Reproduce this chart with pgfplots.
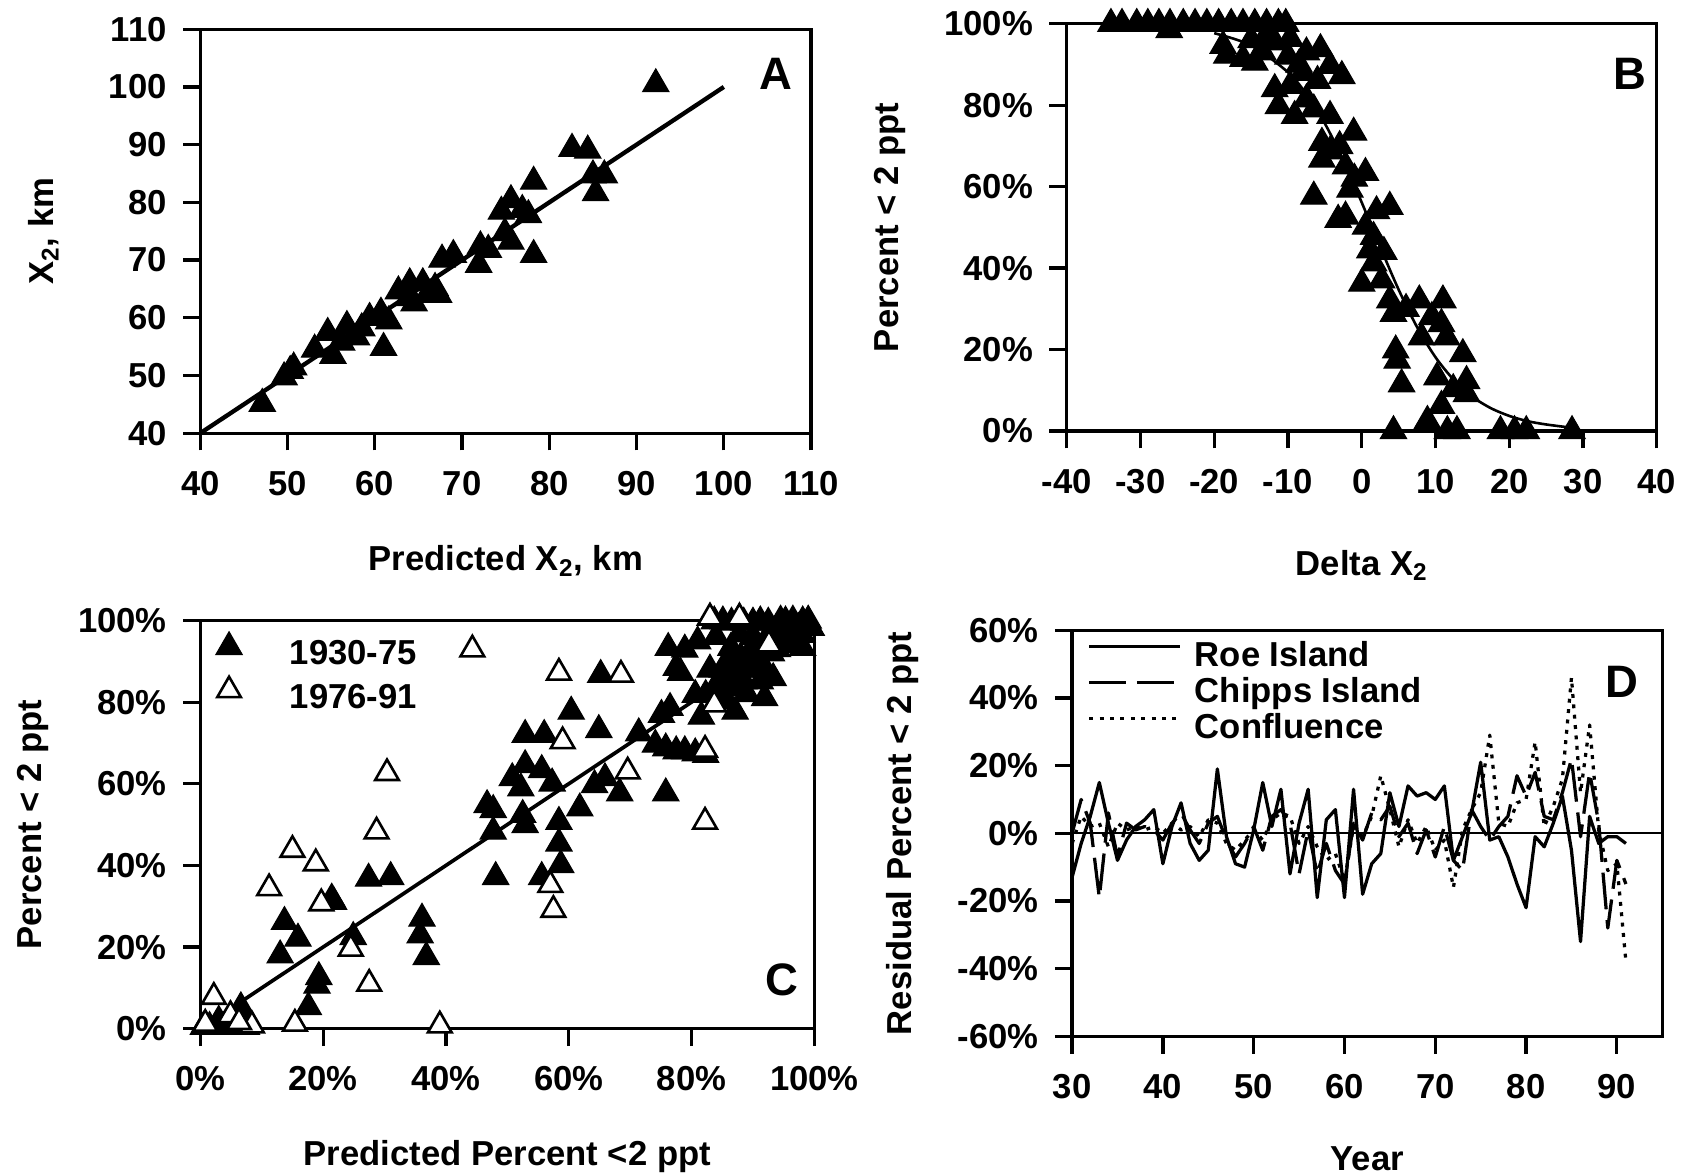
\documentclass[border=0pt]{standalone}
\usepackage{fontspec}
\setmainfont{Liberation Sans}
\usepackage{pgfplots}
\pgfplotsset{compat=1.18}
\newcommand\lab{\fontsize{16}{19}\selectfont\bfseries}
\newcommand\panelfont{\fontsize{21}{24}\selectfont\bfseries}
\pgfplotsset{
  panel/.style={
    scale only axis,
    anchor=south west,
    axis line style={line width=1.5pt},
    every tick/.style={line width=1.5pt, black},
    tick align=outside,
    major tick length=8pt,
    tick pos=left,
    tick label style={font=\lab},
    label style={font=\lab},
    /pgf/number format/assume math mode=true,
    clip=false,
    xticklabel shift=6pt,
    yticklabel shift=4pt,
  },
  fill tri/.style={only marks, mark=triangle*, mark size=7pt, mark options={fill=black, draw=black, line width=0.5pt}},
  open tri/.style={only marks, mark=triangle*, mark size=6.3pt, mark options={fill=white, draw=black, line width=1.2pt}},
}
\begin{document}
\begin{tikzpicture}
\useasboundingbox (0,0) rectangle (784pt,542.5pt);
% ---------------- A
\begin{axis}[panel, at={(92.5pt,342.5pt)}, width=282pt, height=186.5pt,
  xmin=40, xmax=110, ymin=40, ymax=110,
  xtick={40,50,60,70,80,90,100,110}, xticklabels={40,50,60,70,80,90,100,110},
  ytick={40,50,60,70,80,90,100,110}, yticklabels={40,50,60,70,80,90,100,110},
  xlabel={Predicted X\textsubscript{2}, km}, ylabel={X\textsubscript{2}, km},
  xlabel style={at={(axis description cs:0.5,-0.316)}, anchor=center},
  ylabel style={at={(axis description cs:-0.257,0.5)}, anchor=center}]
\addplot[line width=2pt] coordinates {(40,40) (100,100)};
\addplot[fill tri] coordinates {
(47.1,45.1) (49.6,49.7) (50.7,51.4) (50.3,50.8) (53.1,54.5) (54.6,57.4) (55.2,53.4)
(56.8,58.6) (56.2,55.7) (57.9,56.6) (59.4,60.0) (60.7,60.9) (61.0,54.8) (61.6,59.4)
(62.7,64.6) (64.0,66.0) (63.8,63.4) (65.5,66.0) (66.9,65.2) (67.3,64.0) (66.0,64.0)
(67.7,70.1) (69.0,70.9) (71.9,69.2) (72.1,72.4) (73.0,71.8) (74.5,78.4) (75.6,80.4)
(74.9,74.7) (75.6,73.2) (76.9,78.7) (77.6,77.8) (78.2,83.6) (78.2,70.9) (82.6,89.3)
(84.4,89.0) (85.0,84.7) (86.3,84.7) (85.3,81.6) (92.2,100.5) (64.5,62.5) (58.5,58.2)};
\node[font=\panelfont] at (axis cs:106,102.3) {A};
\end{axis}
% ---------------- B
\begin{axis}[panel, at={(492.5pt,343.5pt)}, width=272.5pt, height=188pt,
  xmin=-40, xmax=40, ymin=0, ymax=100,
  xtick={-40,-30,-20,-10,0,10,20,30,40}, xticklabels={-40,-30,-20,-10,0,10,20,30,40},
  ytick={0,20,40,60,80,100}, yticklabels={0\%,20\%,40\%,60\%,80\%,100\%},
  xlabel={Delta X\textsubscript{2}}, ylabel={Percent < 2 ppt},
  xlabel style={at={(axis description cs:0.5,-0.330)}, anchor=center},
  ylabel style={at={(axis description cs:-0.299,0.5)}, anchor=center}]
\addplot[line width=1.2pt, smooth] coordinates {
(-20,97.7) (-15,94.7) (-10,88.1) (-7.5,82.7) (-5,75.5) (-2.5,66.5) (0,56.1) (2.5,45.2)
(5,34.7) (7.5,25.5) (10,18.1) (12.5,12.5) (15,8.4) (17.5,5.6) (20,3.7) (22.5,2.4) (25,1.6) (28,0.9)};
\addplot[fill tri] coordinates {
(-34,100) (-32.5,100) (-30.5,100) (-29,100) (-27.5,100) (-26,100) (-24.2,100) (-22.6,100)
(-21,100) (-19.4,100) (-17.7,100) (-16.1,100) (-14.5,100) (-12.9,100) (-11.3,100) (-10.3,100) (-26.1,98.5)
(-18.8,94.6) (-18.3,92.2) (-16.1,91.4) (-14.5,90.5) (-13.4,93.0) (-11.8,95.5) (-9.7,96.3)
(-7.5,93.0) (-5.6,93.8) (-4.3,89.7) (-2.7,87.2) (-11.8,84.0) (-9.7,84.8) (-11.3,79.8)
(-9.1,77.4) (-7.5,81.5) (-4.3,77.4) (-1.1,73.3) (-5.4,70.8) (-4.3,68.7) (-5.4,66.7)
(-2.2,65.0) (0.5,63.4) (-1.6,59.3) (-6.5,57.6) (-2.2,52.7) (3.8,55.1) (-3.2,51.9)
(0.5,50.2) (1.6,47.7) (1.1,44.4) (1.6,41.2) (0,36.2) (2.7,37.0) (3.8,32.1) (4.3,28.8)
(7.8,32.1) (11.0,32.1) (10.8,26.3) (8.1,23.0) (11.5,23.0) (4.6,19.8) (13.7,18.9)
(4.8,17.3) (10.2,13.2) (14.2,12.3) (5.4,11.5) (12.4,10.3) (14.2,9.1) (10.8,6.2) (8.9,2.5)
(4.3,0) (11.6,0) (12.9,0) (18.8,0) (20.7,0) (22.3,0) (28.5,0) (-8,88) (-6,86)
(-15,96) (-13,97) (-10,92) (-8.5,90) (-6.5,79) (-3,70) (-1,62) (2,54) (3,44) (6,30) (9.5,28)};
\node[font=\panelfont] at (axis cs:36.4,87.8) {B};
\end{axis}
% ---------------- C
\begin{axis}[panel, at={(92.5pt,67.5pt)}, width=283.5pt, height=188.5pt,
  xmin=0, xmax=100, ymin=0, ymax=100,
  xtick={0,20,40,60,80,100}, xticklabels={0\%,20\%,40\%,60\%,80\%,100\%},
  ytick={0,20,40,60,80,100}, yticklabels={0\%,20\%,40\%,60\%,80\%,100\%},
  xlabel={Predicted Percent <2 ppt}, ylabel={Percent < 2 ppt},
  xlabel style={at={(axis description cs:0.5,-0.313)}, anchor=center},
  ylabel style={at={(axis description cs:-0.273,0.5)}, anchor=center},
  legend image code/.code={\draw[#1] plot coordinates {(0pt,4pt)};},
  legend style={at={(axis description cs:0,1)}, anchor=north west, xshift=4pt, yshift=-3pt,
    draw=none, fill=none, font=\lab, row sep=2.5pt,
    nodes={inner sep=0pt, text height=11.5pt, text depth=3pt},
    /tikz/every odd column/.append style={column sep=22pt}},
  legend cell align=left]
\addplot[line width=1.7pt, forget plot] coordinates {(1,1) (97,97)};
\addplot[fill tri] coordinates {
(0.5,0.5) (1.5,0.5) (2.5,0.5) (3.5,0.5) (4.5,1) (5.5,0.5) (6.5,1) (7.5,0.5) (3,2) (5,3) (6.6,5.3)
(17.6,5.3) (19.0,10.6) (19.3,12.7) (13.0,18.0) (15.9,22.1) (13.7,26.2) (21.4,31.9) (21.7,31.1)
(27.4,36.8) (31.0,37.2) (24.9,22.5) (36.1,27.0) (35.8,22.9) (36.8,17.6) (46.7,54.8) (47.7,53.6)
(47.7,48.3) (48.1,37.2) (52.9,72.0) (56.0,72.0) (52.9,64.6) (55.6,63.4) (50.8,61.4) (52.2,58.9)
(57.3,60.1) (52.5,52.4) (52.9,49.9) (58.4,50.7) (58.4,45.4) (58.7,40.1) (55.6,37.2) (60.4,77.7)
(65.2,86.7) (64.9,73.2) (64.2,59.7) (65.9,61.4) (61.8,54.0) (68.3,57.7) (71.4,72.4) (75.8,57.7)
(74.1,69.6) (75.8,68.7) (77.5,68) (78.9,68) (80.6,67.5) (82.3,67.1) (75.1,76.9) (76.5,78.6)
(76.2,93.3) (77.5,88.4) (78.9,92.9) (78.2,87.2) (81.0,94.9) (80.6,81.8) (81.6,76.5) (85.1,99.8)
(86.4,93.3) (87.1,88.4) (84.7,85.9) (86.4,83.5) (85.8,80.2) (88.5,85.1) (87.1,77.7) (89.9,88.4)
(91.9,81.0) (91.2,85.1) (93.3,85.9) (89.9,93.3) (92.6,96.6) (95.3,99.8) (98.1,99.8) (96.7,95.7)
(98.1,93.3) (99.5,98.2) (91.2,99.8) (94.0,98.2) (87.8,96.6) (82.3,81.8) (83.7,99.8) (97.4,98.2)
(86,90) (88,91) (90,96) (96,97) (93,92) (84,96) (86.5,99.5) (88.5,99.5) (90,99.5) (92.5,99.5)
(94.5,100) (96.5,100) (99,100) (85,88) (87.5,84) (89,82) (92,88) (95,95) (98,96.5) (83,88)
(84,83) (86,86) (88,88) (90.5,90.5) (94,93) (97,94)};
\addlegendentry{1930-75}
\addplot[open tri] coordinates {
(2.2,7.8) (0.8,1.2) (4.9,3.3) (8.4,0.8) (6.3,1.6) (15.4,1.2) (11.2,34.4) (15.0,43.8) (18.8,40.5)
(19.7,30.7) (24.5,19.6) (27.5,11.0) (28.7,48.3) (30.4,62.6) (39.0,0.8) (44.3,92.9) (58.4,87.2)
(59.0,70.4) (57.0,35.2) (57.5,29.1) (68.5,86.7) (69.6,63.0) (82.2,50.7) (82.2,68.3) (83.0,100.7)
(87.8,100.7) (92.6,94.1) (83.7,79.4)};
\addlegendentry{1976-91}
\node[font=\panelfont] at (axis cs:94.7,11.9) {C};
\end{axis}
% ---------------- D
\begin{axis}[panel, at={(495pt,64pt)}, width=272.5pt, height=187.5pt,
  xmin=30, xmax=95, ymin=-60, ymax=60,
  xtick={30,40,50,60,70,80,90}, xticklabels={30,40,50,60,70,80,90},
  ytick={-60,-40,-20,0,20,40,60}, yticklabels={-60\%,-40\%,-20\%,0\%,20\%,40\%,60\%},
  xlabel={Year}, ylabel={Residual Percent < 2 ppt},
  xlabel style={at={(axis description cs:0.5,-0.301)}, anchor=center},
  ylabel style={at={(axis description cs:-0.288,0.5)}, anchor=center},
  legend image code/.code={\draw[#1] (0pt,5pt) -- (42pt,5pt);},
  legend style={at={(axis description cs:0,1)}, anchor=north west, xshift=4pt, yshift=-3pt,
    draw=none, fill=none, font=\lab, row sep=2.2pt,
    nodes={inner sep=0pt, text height=11.5pt, text depth=3pt},
    /tikz/every odd column/.append style={column sep=6pt}},
  legend cell align=left]
\addplot[line width=1pt, forget plot] coordinates {(30,0) (95,0)};
\addplot[line width=1.5pt, line join=round] coordinates {
(30,-13) (31,-3) (32,5) (33,15) (34,3) (35,-8) (36,-2) (37,2) (38,4) (39,7) (40,-9) (41,2)
(42,9) (43,-3) (44,-8) (45,-5) (46,19) (47,-1) (48,-9) (49,-10) (50,1) (51,15) (52,2) (53,13)
(54,-12) (55,3) (56,13) (57,-19) (58,4) (59,7) (60,-19) (61,13) (62,-18) (63,-9) (64,-6)
(65,12) (66,2) (67,14) (68,11) (69,12) (70,10) (71,14) (72,-8) (73,-1) (74,6) (75,21) (76,-2)
(77,-1) (78,-7) (79,-15) (80,-22) (81,-1) (82,-4) (83,3) (84,11) (85,-5) (86,-32) (87,5)
(88,-3) (89,-1) (90,-1) (91,-3)};
\addlegendentry{Roe Island}
\addplot[line width=1.5pt, dash pattern=on 17pt off 5pt, line join=round] coordinates {
(30,0) (31,10) (32,3) (33,-19) (34,6) (35,-7) (36,3) (37,1) (38,2) (39,1) (40,-2) (41,3)
(42,6) (43,1) (44,-3) (45,3) (46,5) (47,-2) (48,-7) (49,-3) (50,2) (51,-5) (52,5) (53,7)
(54,3) (55,-12) (56,1) (57,-12) (58,-3) (59,-11) (60,-15) (61,3) (62,-2) (63,6) (64,4) (65,8)
(66,-1) (67,3) (68,-6) (69,1) (70,-7) (71,2) (72,-8) (73,-11) (74,7) (75,2) (76,-2) (77,2)
(78,5) (79,17) (80,11) (81,18) (82,5) (83,4) (84,12) (85,22) (86,-1) (87,18) (88,3) (89,-28)
(90,-8) (91,-15)};
\addlegendentry{Chipps Island}
\addplot[line width=1.5pt, dash pattern=on 1.8pt off 3pt, line join=round] coordinates {
(30,-3) (31,5) (32,2) (33,3) (34,-4) (35,3) (36,1) (37,2) (38,1) (39,2) (40,0) (41,3) (42,1)
(43,2) (44,-1) (45,4) (46,3) (47,-3) (48,-5) (49,-2) (50,1) (51,-2) (52,4) (53,6) (54,5)
(55,-3) (56,2) (57,-4) (58,-8) (59,-6) (60,-14) (61,2) (62,-1) (63,5) (64,17) (65,7) (66,-4)
(67,4) (68,-3) (69,2) (70,-5) (71,-2) (72,-16) (73,1) (74,7) (75,12) (76,29) (77,3) (78,2)
(79,9) (80,10) (81,27) (82,2) (83,8) (84,16) (85,46) (86,12) (87,32) (88,1) (89,-11) (90,-9)
(91,-38)};
\addlegendentry{Confluence}
\node[font=\panelfont] at (axis cs:90.6,44.8) {D};
\end{axis}
\end{tikzpicture}
\end{document}
